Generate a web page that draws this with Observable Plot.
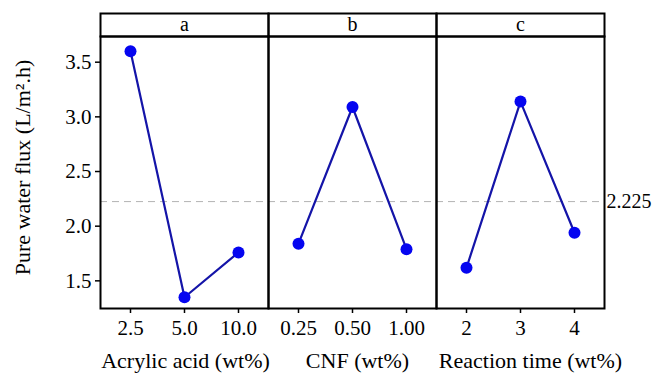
<!DOCTYPE html>
<html>
<head>
<meta charset="utf-8">
<script src="https://cdn.jsdelivr.net/npm/d3@7"></script>
<script src="https://cdn.jsdelivr.net/npm/@observablehq/plot@0.6"></script>
<style>
  html, body { margin: 0; padding: 0; background: #fff; }
  #chart svg, #chart svg text { font-family: "Liberation Serif", "Times New Roman", serif !important; }
</style>
</head>
<body>
<div id="chart"></div>
<script>
// ---- data ----
const panels = ["a", "b", "c"];
const factorTitles = ["Acrylic acid (wt%)", "CNF (wt%)", "Reaction time (wt%)"];
const acrylicLevels = ["2.5", "5.0", "10.0"];
const acrylicFlux = [3.60, 1.35, 1.76];
const cnfLevels = ["0.25", "0.50", "1.00"];
const cnfFlux = [1.84, 3.09, 1.79];
const timeLevels = ["2", "3", "4"];
const timeFlux = [1.62, 3.14, 1.94];
const meanFlux = [2.225];
const yTicks = [1.5, 2.0, 2.5, 3.0, 3.5];
const yLabel = "Pure water flux (L/m\u00B2.h)";

// ---- build table ----
const levelSets = [acrylicLevels, cnfLevels, timeLevels];
const fluxSets = [acrylicFlux, cnfFlux, timeFlux];
const rows = [];
panels.forEach((p, k) => {
  levelSets[k].forEach((lab, i) => rows.push({panel: p, i, label: lab, flux: fluxSets[k][i]}));
});
const titleRows = panels.map((p, k) => ({panel: p, title: factorTitles[k]}));
const titleShift = [1, 5, 10]; // small horizontal offsets of the axis titles (style)

const W = 655, H = 373;
const mTop = 36, mBottom = 65, mLeft = 99, mRight = 50;
const frameH = H - mTop - mBottom;
const font = "Liberation Serif";

const chart = Plot.plot({
  width: W,
  height: H,
  marginTop: mTop,
  marginBottom: mBottom,
  marginLeft: mLeft,
  marginRight: mRight,
  style: {fontFamily: font, fontSize: "21px", color: "#000", background: "#fff"},
  fx: {domain: panels, padding: 0, axis: null},
  x: {type: "point", domain: [0, 1, 2], padding: 0.53, axis: null},
  y: {domain: [1.247, 3.735], ticks: yTicks, tickFormat: d3.format(".1f"), label: null},
  marks: [
    Plot.ruleY(meanFlux, {y: d => d, stroke: "#b4b4b4", strokeWidth: 1, strokeDasharray: "7,5"}),
    Plot.axisY({ticks: yTicks, tickFormat: d3.format(".1f"), tickSize: 5, tickPadding: 4, fontSize: 21, fontFamily: font, label: null, strokeWidth: 1.5}),
    Plot.line(rows, {x: "i", y: "flux", fx: "panel", stroke: "#1414a8", strokeWidth: 2.2}),
    Plot.dot(rows, {x: "i", y: "flux", fx: "panel", r: 6, fill: "#0505f0", stroke: "none"}),
    Plot.frame({stroke: "#000", strokeWidth: 2}),
    Plot.frame({stroke: "#000", strokeWidth: 2, insetTop: -23, insetBottom: frameH}),
    Plot.text(panels, {fx: d => d, text: d => d, frameAnchor: "top", dy: -12, lineAnchor: "middle", fontSize: 20, fontFamily: font}),
    Plot.ruleX(rows, {x: "i", fx: "panel", stroke: "#000", strokeWidth: 1.5, insetTop: frameH, insetBottom: -5}),
    Plot.text(rows, {x: "i", fx: "panel", text: "label", frameAnchor: "bottom", dy: 20, lineAnchor: "middle", fontSize: 21, fontFamily: font}),
    ...titleRows.map((t, k) =>
      Plot.text([t], {fx: "panel", text: "title", frameAnchor: "bottom", dx: titleShift[k], dy: 52, lineAnchor: "middle", fontSize: 22, fontFamily: font})
    ),
    Plot.text(meanFlux, {fx: () => "c", y: d => d, text: d => String(d), frameAnchor: "right", textAnchor: "start", dx: 2, fontSize: 20, fontFamily: font}),
    Plot.text([yLabel], {fx: () => "a", frameAnchor: "left", dx: -78, dy: -5, rotate: -90, text: d => d, textAnchor: "middle", fontSize: 22, fontFamily: font})
  ]
});
document.getElementById("chart").appendChild(chart);
</script>
</body>
</html>
